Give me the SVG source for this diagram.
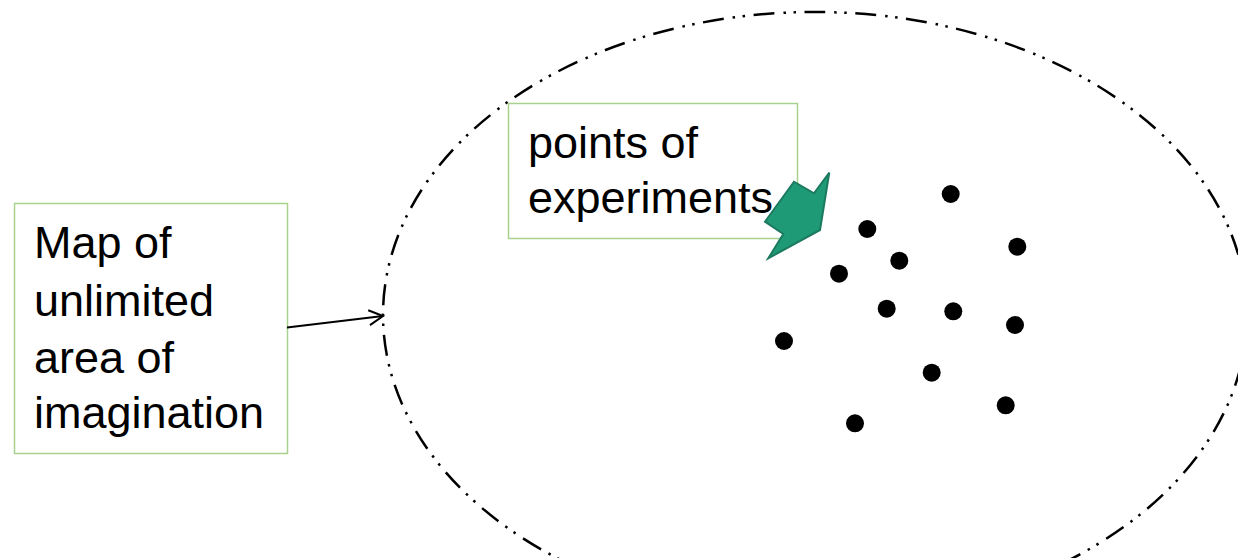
<svg xmlns="http://www.w3.org/2000/svg" width="1238" height="558" viewBox="0 0 1238 558">
<style>
.box{fill:#ffffff;stroke:#a9d18e;stroke-width:1.5}
.lbl{font-family:"Liberation Sans",Arial,sans-serif;font-size:45px;fill:#000000}
.dot{fill:#000000}
</style>
<defs>
<marker id="open" markerWidth="18" markerHeight="18" refX="16" refY="9" orient="auto" markerUnits="userSpaceOnUse">
<path d="M2,1.5 L16,9 L2,16.5" fill="none" stroke="#000" stroke-width="2"/>
</marker>
</defs>
<rect width="1238" height="558" fill="#ffffff"/>
<g id="region">
<ellipse cx="815" cy="315" rx="432" ry="303" fill="none" stroke="#000" stroke-width="2.5" stroke-dasharray="21 9 2.5 7.5 2.5 8.5"/>
</g>
<g id="map-label">
<rect class="box" x="14.5" y="203.5" width="273" height="250"/>
<text class="lbl" x="34" y="258">Map of</text>
<text class="lbl" x="34" y="316">unlimited</text>
<text class="lbl" x="34" y="373">area of</text>
<text class="lbl" x="34" y="428">imagination</text>
</g>
<g id="points-label">
<rect class="box" x="508.5" y="103.5" width="289" height="135"/>
<text class="lbl" x="528" y="158">points of</text>
<text class="lbl" x="528" y="213">experiments</text>
</g>
<g id="green-arrow">
<polygon points="829.3,172.7 820,230 768.3,258.3 783.3,234 765,221.7 794,181.7 814,193.3" fill="#1f9a77" stroke="#1b7a5f" stroke-width="2" stroke-linejoin="miter"/>
</g>
<g id="dots">
<circle class="dot" cx="950.7" cy="194" r="9"/>
<circle class="dot" cx="867.3" cy="229" r="9"/>
<circle class="dot" cx="1017.3" cy="246.7" r="9"/>
<circle class="dot" cx="899.3" cy="260.7" r="9"/>
<circle class="dot" cx="839" cy="273.7" r="9"/>
<circle class="dot" cx="886.7" cy="308.7" r="9"/>
<circle class="dot" cx="953.3" cy="311.3" r="9"/>
<circle class="dot" cx="1015" cy="325" r="9"/>
<circle class="dot" cx="784" cy="341" r="9"/>
<circle class="dot" cx="931.7" cy="372.7" r="9"/>
<circle class="dot" cx="1005.7" cy="405.3" r="9"/>
<circle class="dot" cx="855" cy="423.3" r="9"/>
</g>
<g id="connectors">
<line x1="287" y1="327.5" x2="383" y2="316" stroke="#000" stroke-width="2" marker-end="url(#open)"/>
</g>
</svg>
